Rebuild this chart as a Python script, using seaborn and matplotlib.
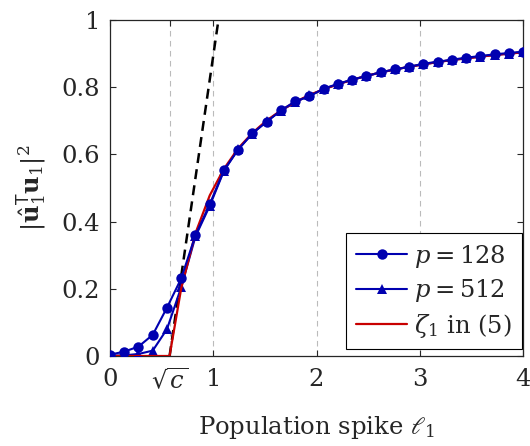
import numpy as np
import pandas as pd
import matplotlib
matplotlib.use("Agg")
import matplotlib.pyplot as plt
import seaborn as sns

# sample grid of population spikes
spike = [0.000, 0.138, 0.276, 0.414, 0.552, 0.690, 0.828, 0.966, 1.103, 1.241,
         1.379, 1.517, 1.655, 1.793, 1.931, 2.069, 2.207, 2.345, 2.483, 2.621,
         2.759, 2.897, 3.034, 3.172, 3.310, 3.448, 3.586, 3.724, 3.862, 4.000]

align_p128 = [0.004, 0.013, 0.028, 0.063, 0.144, 0.231, 0.360, 0.452, 0.553, 0.614,
              0.663, 0.697, 0.731, 0.758, 0.773, 0.796, 0.810, 0.823, 0.833, 0.845,
              0.853, 0.861, 0.870, 0.876, 0.882, 0.888, 0.893, 0.898, 0.902, 0.906]

align_p512 = [0.001, 0.002, 0.006, 0.016, 0.080, 0.205, 0.356, 0.447, 0.551, 0.616,
              0.662, 0.699, 0.730, 0.755, 0.776, 0.794, 0.809, 0.822, 0.834, 0.844,
              0.853, 0.861, 0.868, 0.875, 0.881, 0.886, 0.891, 0.896, 0.900, 0.904]

# theoretical limit
theory_x = [0.000, 0.577, 0.690, 0.828, 0.966, 1.103, 1.241, 1.379, 1.517, 1.655,
            1.793, 1.931, 2.069, 2.207, 2.345, 2.483, 2.621, 2.759, 2.897, 3.034,
            3.172, 3.310, 3.448, 3.586, 3.724, 3.862, 4.000]
theory_y = [0.000, 0.000, 0.202, 0.366, 0.478, 0.557, 0.618, 0.664, 0.701, 0.731,
            0.756, 0.777, 0.794, 0.809, 0.822, 0.834, 0.844, 0.853, 0.861, 0.868,
            0.875, 0.881, 0.886, 0.891, 0.896, 0.900, 0.904]

# tangent at the phase transition
tangent_x = [0.577, 1.05]
tangent_y = [0.0, 1.0]

sqrt_c = 0.577
xticks = [0, sqrt_c, 1, 2, 3, 4]
xticklabels = ["0", r"$\sqrt{c}$", "1", "2", "3", "4"]
yticks = [0, 0.2, 0.4, 0.6, 0.8, 1]
yticklabels = ["0", "0.2", "0.4", "0.6", "0.8", "1"]

sns.set_style("ticks")
plt.rcParams["font.family"] = ["DejaVu Serif"]
plt.rcParams["mathtext.fontset"] = "dejavuserif"

blue = "#0000b0"
red = "#c80000"
fs = 17.5

df128 = pd.DataFrame({"x": spike, "y": align_p128})
df512 = pd.DataFrame({"x": spike, "y": align_p512})
dfth = pd.DataFrame({"x": theory_x, "y": theory_y})
dftan = pd.DataFrame({"x": tangent_x, "y": tangent_y})

fig = plt.figure(figsize=(5.30, 4.46), dpi=100)
ax = fig.add_axes([0.2075, 0.2018, 0.7795, 0.7532])

for g in [sqrt_c, 1, 2, 3]:
    ax.axvline(g, color="#bbbbbb", lw=0.8, ls=(0, (5, 4)), zorder=0)

sns.lineplot(data=dftan, x="x", y="y", ax=ax, color="black", lw=1.8,
             linestyle=(0, (4, 2.5)), zorder=2)
sns.lineplot(data=df128, x="x", y="y", ax=ax, color=blue, lw=1.5, marker="o",
             markersize=7.5, markeredgewidth=0, label="$p = 128$", zorder=4)
sns.lineplot(data=df512, x="x", y="y", ax=ax, color=blue, lw=1.5, marker="^",
             markersize=7.5, markeredgewidth=0, label="$p = 512$", zorder=3)
sns.lineplot(data=dfth, x="x", y="y", ax=ax, color=red, lw=1.6,
             label=r"$\zeta_1$ in (5)", zorder=3.5)

ax.set_xlim(0, 4)
ax.set_ylim(0, 1)
ax.set_xticks(xticks)
ax.set_xticklabels(xticklabels)
ax.set_yticks(yticks)
ax.set_yticklabels(yticklabels)
ax.tick_params(direction="in", top=True, right=True, labelsize=fs, length=4,
               width=0.8, pad=9)
ax.tick_params(axis="y", pad=7)
for s in ax.spines.values():
    s.set_linewidth(0.9)

ax.set_xlabel(r"Population spike $\ell_1$", fontsize=fs, labelpad=14)
ax.set_ylabel(r"$|\hat{\mathbf{u}}_1^{\mathsf{T}}\mathbf{u}_1|^2$", fontsize=fs,
              labelpad=10)

leg = ax.legend(loc="lower right", bbox_to_anchor=(0.997, 0.02), borderaxespad=0,
                fontsize=fs, frameon=True, fancybox=False, edgecolor="black",
                framealpha=1, handlelength=2.1, labelspacing=0.3,
                borderpad=0.4, handletextpad=0.3)
leg.get_frame().set_linewidth(0.8)

fig.savefig("out.png", dpi=100)
